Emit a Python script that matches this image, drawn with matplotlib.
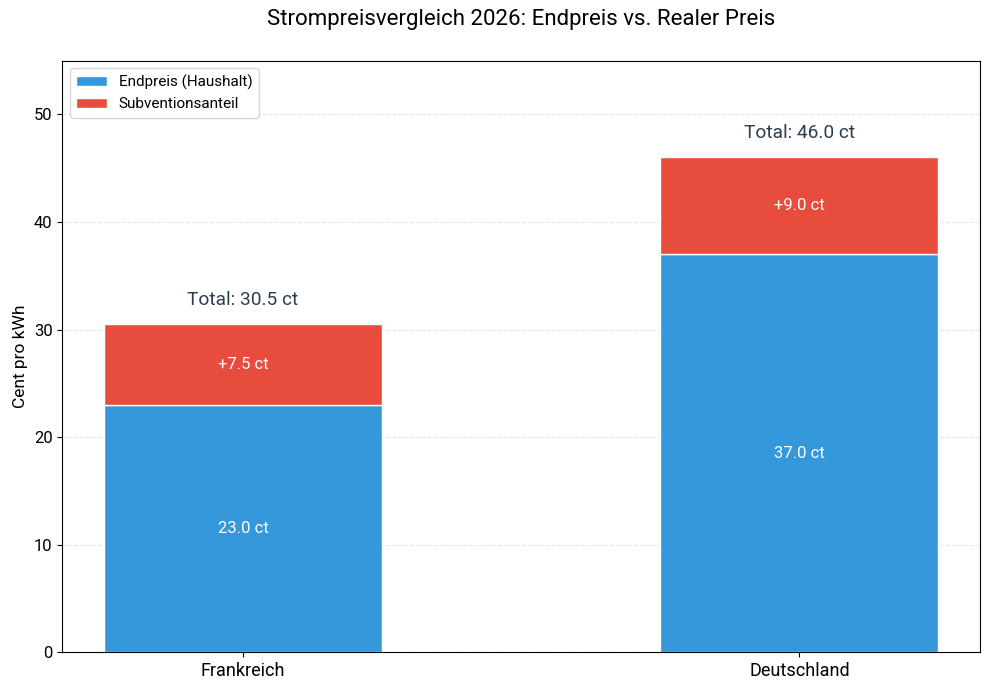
import matplotlib.pyplot as plt
import numpy as np

plt.rcParams['font.family'] = ['Roboto', 'DejaVu Sans']

# Data
laender = ['Frankreich', 'Deutschland']
endpreis = [23.0, 37.0]
subvention = [7.5, 9.0]
total = [e + s for e, s in zip(endpreis, subvention)]

blue = '#3498db'
red = '#e74c3c'

fig, ax = plt.subplots(figsize=(9.89, 6.9), dpi=100)
x = np.arange(len(laender))

b1 = ax.bar(x, endpreis, width=0.5, color=blue, edgecolor='white', linewidth=1,
            label='Endpreis (Haushalt)', zorder=2)
b2 = ax.bar(x, subvention, width=0.5, bottom=endpreis, color=red, edgecolor='white',
            linewidth=1, label='Subventionsanteil', zorder=2)

for i in range(len(laender)):
    ax.text(x[i], endpreis[i] / 2, f'{endpreis[i]:.1f} ct', ha='center', va='center',
            color='white', fontsize=12, zorder=3)
    ax.text(x[i], endpreis[i] + subvention[i] / 2, f'+{subvention[i]:.1f} ct', ha='center',
            va='center', color='white', fontsize=12, zorder=3)
    ax.text(x[i], total[i] + 1.4, f'Total: {total[i]:.1f} ct', ha='center', va='bottom',
            color='#2c3e50', fontsize=13.8, zorder=3)

ax.set_ylim(0, 55)
ax.set_xticks(x)
ax.set_xticklabels(laender, fontsize=13)
ax.tick_params(axis='y', labelsize=12)
ax.set_ylabel('Cent pro kWh', fontsize=12.5)
ax.set_title('Strompreisvergleich 2026: Endpreis vs. Realer Preis', fontsize=16, pad=26)
ax.grid(axis='y', linestyle='--', alpha=0.3, zorder=0)
ax.set_axisbelow(True)
ax.legend(loc='upper left', fontsize=11)

plt.subplots_adjust(left=0.063, right=0.991, top=0.912, bottom=0.055)
plt.savefig('out.png')
